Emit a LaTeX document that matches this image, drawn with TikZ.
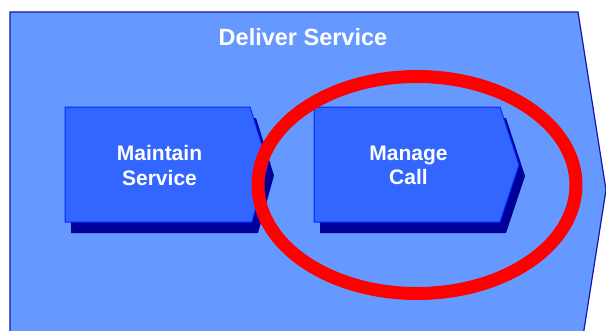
\documentclass[tikz,border=0pt]{standalone}
\usepackage{fontspec}
\setmainfont{Liberation Sans}
\definecolor{outerfill}{RGB}{102,153,255}
\definecolor{outerline}{RGB}{20,20,170}
\definecolor{boxfill}{RGB}{51,102,255}
\definecolor{boxline}{RGB}{0,40,255}
\definecolor{shadowc}{RGB}{0,0,153}
\definecolor{ringred}{RGB}{255,0,0}
\begin{document}
\begin{tikzpicture}[x=1pt,y=-1pt,
  outershape/.style={fill=outerfill,draw=outerline,line width=1.2pt,line join=miter},
  procbox/.style={fill=boxfill,draw=boxline,line width=1pt},
  procshadow/.style={fill=shadowc,draw=none},
  boxlabel/.style={text=white,font=\bfseries\fontsize{21}{24.3}\selectfont,align=center,inner sep=0pt},
  titlelabel/.style={text=white,font=\bfseries\fontsize{23.5}{24}\selectfont,inner sep=0pt,anchor=base},
  ring/.style={draw=ringred,line width=13pt}]
\useasboundingbox (0,0) rectangle (606,330);
\clip (0,0) rectangle (606,330);
% outer chevron
\draw[outershape] (10,12) -- (578,12) -- (606,190) -- (578,368) -- (10,368) -- cycle;
\node[titlelabel] (title) at (303,45) {Deliver Service};
% Maintain Service
\fill[procshadow] (71,118) -- (256,118) -- (274,175.5) -- (258,233) -- (71,233) -- cycle;
\draw[procbox] (65,107) -- (250,107) -- (268,164.5) -- (252,222) -- (65,222) -- cycle;
\node[boxlabel] (ms) at (159.5,165.5) {Maintain\\Service};
% Manage Call
\fill[procshadow] (320,118) -- (506,118) -- (525,176) -- (506,233) -- (320,233) -- cycle;
\draw[procbox] (314,107) -- (500,107) -- (519,165) -- (500,222) -- (314,222) -- cycle;
\node[boxlabel] (mc) at (408.5,165.5) {Manage\\Call};
% red ring
\draw[ring] (417,185) ellipse [x radius=159pt, y radius=108.5pt];
\end{tikzpicture}
\end{document}
